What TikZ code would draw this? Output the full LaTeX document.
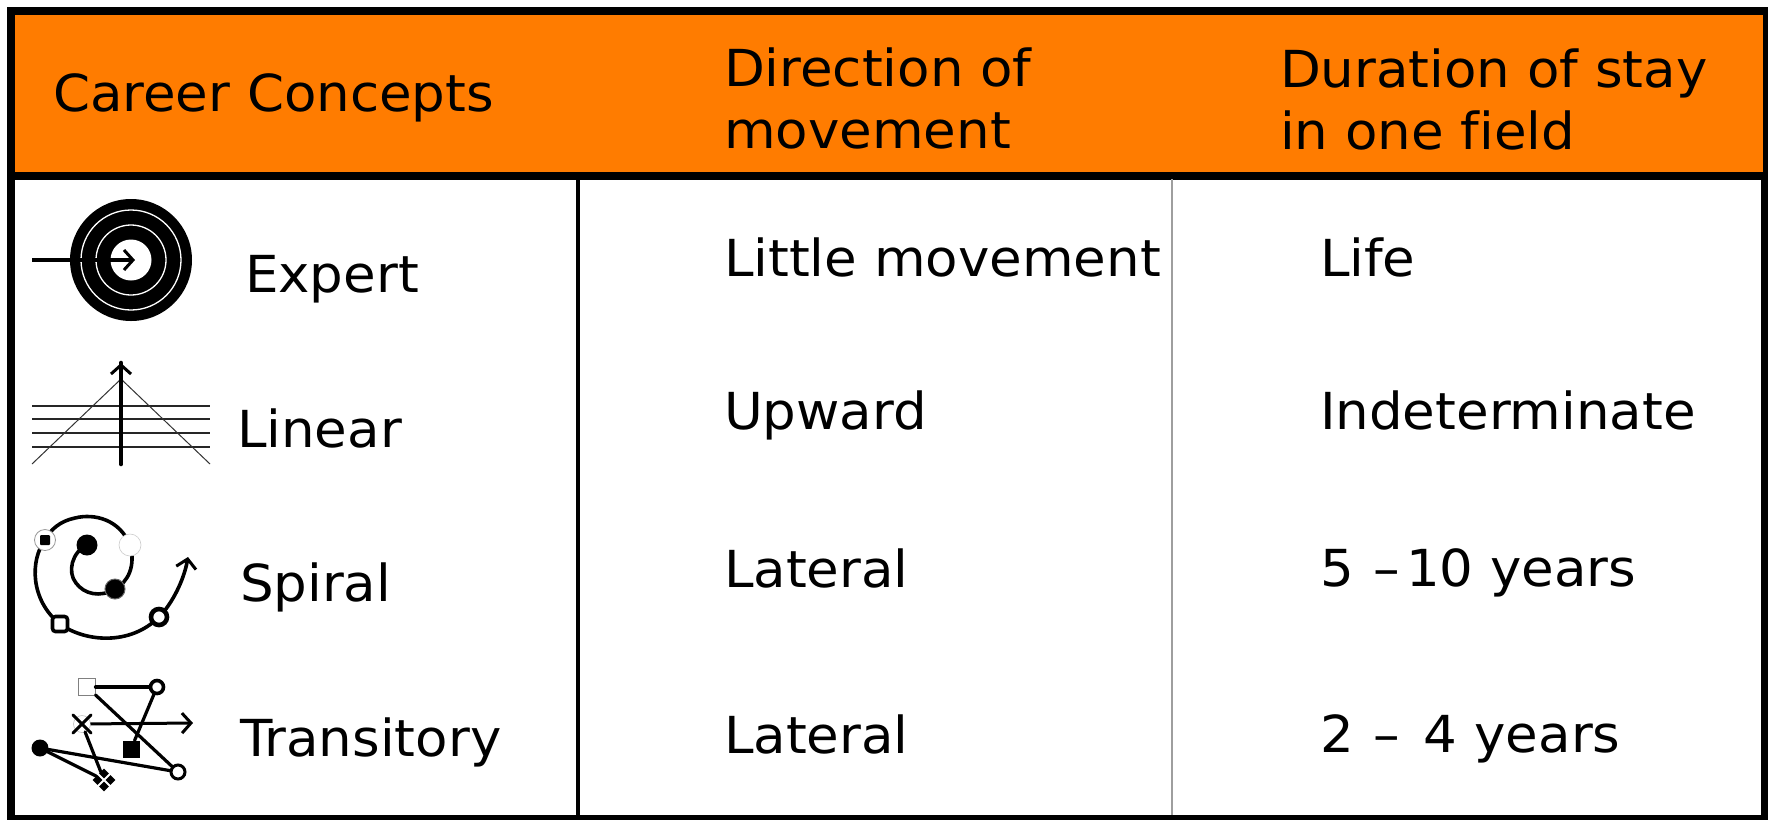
\documentclass[tikz,border=0pt]{standalone}
\usepackage{fontspec}
\setmainfont[FakeStretch=1.04]{DejaVu Sans}
\usetikzlibrary{arrows.meta}
\definecolor{hdr}{RGB}{255,124,0}
\newcommand{\ico}{\fontsize{51}{51}\selectfont}
\tikzset{
 txt/.style={anchor=base west,inner sep=0pt,outer sep=0pt,font=\ico},
 dot/.style={circle,inner sep=0pt,outer sep=0pt,minimum size=#1},
 sq/.style={rectangle,inner sep=0pt,outer sep=0pt,minimum size=#1},
 icon/.style={line width=3.2pt,line cap=round},
 tip/.style={-{Straight Barb[length=9pt,width=20pt,line width=3pt]}}
}
\begin{document}
\begin{tikzpicture}[x=1pt,y=-1pt]
\useasboundingbox (0,0) rectangle (1768,820);
\fill[white] (0,0) rectangle (1768,820);
% frame and header
\fill[hdr] (11,11) rectangle (1765,175);
\draw[line width=8pt] (7,11) -- (1768,11);
\draw[line width=8pt] (7,175.5) -- (1768,175.5);
\draw[line width=8pt] (11,7) -- (11,820);
\draw[line width=5pt] (1765.5,7) -- (1765.5,179);
\draw[line width=7pt] (1764.5,179) -- (1764.5,820);
\draw[line width=5pt] (7,817.5) -- (1768,817.5);
\draw[line width=4pt] (578,175) -- (578,815);
\draw[line width=2.8pt,black!38] (1172,179) -- (1172,815);
% header text
\node[txt] (h1) at (53,111) {Career Concepts};
\node[txt] (h2a) at (724,86) {Direction of};
\node[txt] (h2b) at (724,148) {movement};
\node[txt] (h3a) at (1280,87) {Duration of stay};
\node[txt] (h3b) at (1280,149) {in one f\kern0pt ield};
% rows
\node[txt] (r1) at (245,292) {Expert};
\node[txt] (r2) at (237,447) {Linear};
\node[txt] (r3) at (240,601) {Spiral};
\node[txt] (r4) at (240,756) {Transitory};
\node[txt] (d1) at (724,276) {Little movement};
\node[txt] (d2) at (724,429) {Upward};
\node[txt] (d3) at (724,587) {Lateral};
\node[txt] (d4) at (724,753) {Lateral};
\node[txt] (t1) at (1320,276) {Life};
\node[txt] (t2) at (1320,429) {Indeterminate};
\node[txt] (t3) at (1320,586) {5 \kern3pt–\kern6pt10 years};
\node[txt] (t4) at (1320,752) {2 \kern3pt–\kern7pt{} 4 years};
% expert icon
\coordinate (ec) at (131,260);
\fill (ec) circle[radius=61];
\draw[white,line width=1.3pt] (ec) circle[radius=50];
\draw[white,line width=1.3pt] (ec) circle[radius=35];
\fill[white] (ec) circle[radius=20.5];
\coordinate (e0) at (32,260);
\coordinate (e1) at (135,260);
\draw[line width=3.4pt,tip] (e0) -- (e1);
% linear icon
\foreach \y in {406,419,433,447}{\draw[line width=1.7pt,black!85] (32,\y) -- (210,\y);}
\coordinate (la) at (121,379);
\coordinate (lb) at (32,464);
\coordinate (lc) at (210,464);
\draw[line width=1pt,black!80] (lb) -- (la) -- (lc);
\coordinate (l0) at (121,464);
\coordinate (l1) at (121,363);
\draw[line width=4.6pt,line cap=round] (l0) -- (l1);
\draw[line width=3.6pt,tip] (121,370) -- (l1);
% spiral icon
\coordinate (s0) at (87,545);
\coordinate (s1) at (115,589);
\coordinate (s2) at (130,545);
\coordinate (s3) at (45,540);
\coordinate (s4) at (60,624);
\coordinate (s5) at (159,617);
\coordinate (s6) at (188,557);
\draw[line width=3.6pt] (s0) .. controls (72,552) and (67,572) .. (76,583) .. controls (84,594) and (100,598) .. (115,589)
  .. controls (128,582) and (136,566) .. (130,545) .. controls (120,520) and (95,513) .. (75,518)
  .. controls (60,521) and (50,530) .. (45,540) .. controls (30,560) and (30,600) .. (60,624)
  .. controls (85,642) and (130,646) .. (159,617);
\draw[line width=3.6pt,tip] (s5) .. controls (172,604) and (184,580) .. (s6);
\node[dot=21pt,fill=black] (sa) at (s0) {};
\node[dot=20pt,fill=black,draw=black!60,line width=1pt] (sb) at (s1) {};
\node[dot=22pt,fill=white,draw=black!20,line width=.6pt] (sc) at (s2) {};
\node[dot=21pt,fill=white,draw=black!40,line width=.8pt] (sd) at (s3) {};
\node[sq=10pt,fill=black,rounded corners=1pt] at (s3) {};
\node[sq=15pt,fill=white,draw=black,line width=3.6pt,rounded corners=3pt] (se) at (s4) {};
\node[dot=16pt,fill=white,draw=black,line width=4.6pt] (sf) at (s5) {};
% transitory icon
\node[sq=17pt,fill=white,draw=black!50,line width=.6pt] (ta) at (87,687) {};
\node[dot=13pt,fill=white,draw=black,line width=3.6pt] (tb) at (157,687) {};
\node[sq=17pt,fill=black] (tc) at (131,749) {};
\node[dot=17pt,fill=white,draw=black!25,line width=.6pt] (td) at (82,724) {};
\coordinate (te) at (193,723);
\node[dot=17pt,fill=black] (tf) at (40,748) {};
\node[dot=14pt,fill=white,draw=black,line width=3pt] (tg) at (178,772) {};
\node[sq=16pt,rotate=45,fill=black] (th) at (104,780) {};
\draw[icon] (ta) -- (tb);
\draw[icon] (ta) -- (tg);
\draw[icon] (tb) -- (tc);
\draw[icon] (tf) -- (th);
\draw[icon] (tf) -- (tg);
\draw[icon] (td) -- (th);
\draw[line width=3pt,tip] (td) -- (te);
\draw[line width=3pt,line cap=round] (73,715) -- (91,733) (91,715) -- (73,733);
\draw[white,line width=2pt] (97,773) -- (111,787) (111,773) -- (97,787);
\end{tikzpicture}
\end{document}
